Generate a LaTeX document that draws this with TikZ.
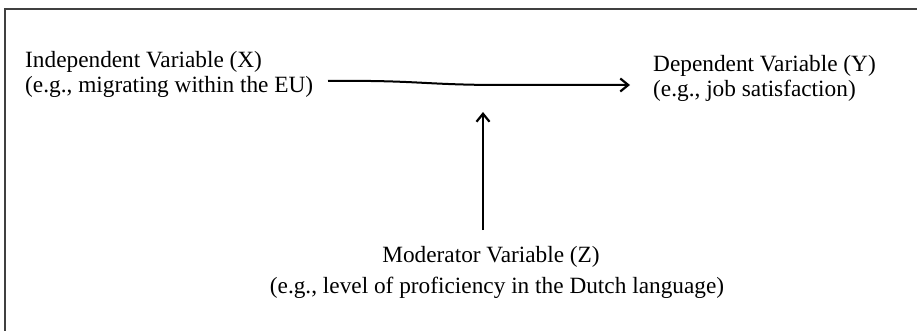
\documentclass[tikz,border=0pt]{standalone}
\usepackage{fontspec}
\setmainfont{Liberation Serif}
\usetikzlibrary{arrows.meta}
\begin{document}
\begin{tikzpicture}[x=1pt,y=-1pt,
  lbl/.style={inner sep=0pt,font=\fontsize{23.3}{28}\selectfont},
  conn/.style={line width=2pt,-{Straight Barb[length=8pt,width=13pt,line width=2.2pt]}},
  frame/.style={draw=black!75,line width=1.4pt}]
\useasboundingbox (0,0) rectangle (917,331);
\fill[white] (0,0) rectangle (917,331);
\draw[frame] (5,331) -- (5,9) -- (917,9);
% X
\node[lbl,anchor=base west] (X1) at (25,68) {Independent Variable (X)};
\node[lbl,anchor=base west] (X2) at (25,93) {(e.g., migrating within the EU)};
% Y
\node[lbl,anchor=base west] (Y1) at (653,72) {Dependent Variable (Y)};
\node[lbl,anchor=base west] (Y2) at (653,97) {(e.g., job satisfaction)};
% Z
\node[lbl,anchor=base] (Z1) at (491,262) {Moderator Variable (Z)};
\node[lbl,anchor=base] (Z2) at (497,293) {(e.g., level of proficiency in the Dutch language)};
% connectors
\coordinate (a) at (328,81);
\coordinate (b) at (630,85);
\draw[conn] (a) .. controls ++(90,-1) and ++(-80,0) .. ++(175,4) -- (b);
\coordinate (c) at (483,230);
\coordinate (d) at (483,112);
\draw[conn] (c) -- (d);
\end{tikzpicture}
\end{document}
